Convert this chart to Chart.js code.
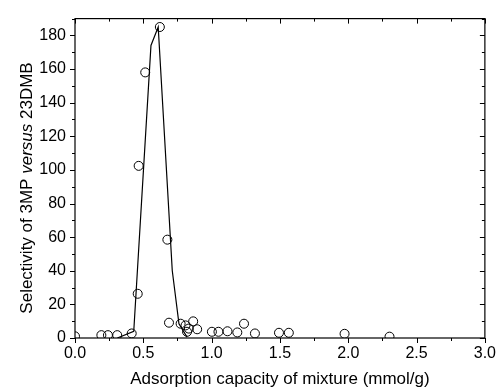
<!DOCTYPE html>
<html>
<head>
<meta charset="utf-8">
<script src="https://cdn.jsdelivr.net/npm/chart.js@4.4.0/dist/chart.umd.min.js"></script>
<style>
  html, body { margin: 0; padding: 0; background: #fff; }
  canvas { display: block; }
</style>
</head>
<body>
<canvas id="chart" width="502" height="389"></canvas>
<script>
// measured selectivity points
const capacity = [0, 0.193, 0.241, 0.309, 0.415, 0.459, 0.466, 0.514, 0.621, 0.676,
  0.688, 0.773, 0.809, 0.82, 0.833, 0.865, 0.894, 1.002, 1.05, 1.116,
  1.188, 1.237, 1.317, 1.493, 1.565, 1.973, 2.302];
const selectivity = [1, 1.7, 1.7, 1.7, 2.7, 26.3, 102.4, 158, 185, 58.5,
  9.1, 8.5, 7.5, 3.7, 5.6, 9.9, 5.2, 3.7, 3.7, 4,
  3.3, 8.5, 2.7, 3.1, 3.1, 2.5, 0.8];

// fitted curve through the peak
const fitCapacity = [0.31, 0.43, 0.556, 0.609, 0.712, 0.761, 0.82];
const fitSelectivity = [0, 4, 174, 185, 40, 8.5, 0.5];

const xTickValues = [0, 0.5, 1.0, 1.5, 2.0, 2.5, 3.0];
const yTickValues = [0, 20, 40, 60, 80, 100, 120, 140, 160, 180];

const FONT = 'Liberation Sans, Arial, Helvetica, sans-serif';

const points = capacity.map((x, i) => ({ x: x, y: selectivity[i] }));
const fit = fitCapacity.map((x, i) => ({ x: x, y: fitSelectivity[i] }));

// box, inward/outward tick marks and axis titles
const framePlugin = {
  id: 'frame',
  afterDraw(chart) {
    const ctx = chart.ctx;
    const a = chart.chartArea;
    const xs = chart.scales.x;
    const ys = chart.scales.y;
    ctx.save();
    ctx.strokeStyle = '#000';
    ctx.lineWidth = 1.2;
    ctx.strokeRect(a.left, a.top, a.right - a.left, a.bottom - a.top);

    ctx.lineWidth = 1;
    ctx.beginPath();
    for (let v = 0; v <= 3.0001; v += 0.25) {
      const px = Math.round(xs.getPixelForValue(v)) + 0.5;
      const major = Math.abs(v * 2 - Math.round(v * 2)) < 1e-6;
      const len = major ? 5 : 3;
      ctx.moveTo(px, a.bottom); ctx.lineTo(px, a.bottom + len);
      ctx.moveTo(px, a.top); ctx.lineTo(px, a.top + len);
    }
    for (let v = 0; v <= 190; v += 10) {
      const py = Math.round(ys.getPixelForValue(v)) + 0.5;
      const len = v % 20 === 0 ? 5 : 3;
      ctx.moveTo(a.left, py); ctx.lineTo(a.left - len, py);
      ctx.moveTo(a.right, py); ctx.lineTo(a.right - len, py);
    }
    ctx.stroke();

    ctx.fillStyle = '#000';
    ctx.textAlign = 'center';
    ctx.textBaseline = 'alphabetic';
    ctx.font = '17px ' + FONT;
    ctx.fillText('Adsorption capacity of mixture (mmol/g)', (a.left + a.right) / 2, 384);

    const parts = [
      ['Selectivity of 3MP ', '17px ' + FONT],
      ['versus', 'italic 17px ' + FONT],
      [' 23DMB', '17px ' + FONT]
    ];
    let total = 0;
    parts.forEach(p => { ctx.font = p[1]; total += ctx.measureText(p[0]).width; });
    ctx.translate(31.5, 188);
    ctx.rotate(-Math.PI / 2);
    ctx.textAlign = 'left';
    let x = -total / 2;
    parts.forEach(p => {
      ctx.font = p[1];
      ctx.fillText(p[0], x, 0);
      x += ctx.measureText(p[0]).width;
    });
    ctx.restore();
  }
};

const tickFont = { family: FONT, size: 16 };

new Chart(document.getElementById('chart').getContext('2d'), {
  type: 'scatter',
  data: {
    datasets: [
      {
        type: 'line',
        data: fit,
        borderColor: '#000',
        borderWidth: 1.2,
        pointRadius: 0,
        fill: false,
        tension: 0,
        clip: 0
      },
      {
        data: points,
        pointStyle: 'circle',
        pointRadius: 4.5,
        borderWidth: 1,
        borderColor: '#000',
        backgroundColor: 'rgba(0,0,0,0)',
        clip: 0
      }
    ]
  },
  options: {
    responsive: false,
    animation: false,
    layout: { padding: { top: 11, right: 13, left: 0, bottom: 0 } },
    plugins: { legend: { display: false }, tooltip: { enabled: false } },
    scales: {
      x: {
        type: 'linear',
        min: 0,
        max: 3,
        afterBuildTicks: s => { s.ticks = xTickValues.map(v => ({ value: v })); },
        ticks: { callback: v => v.toFixed(1), font: tickFont, color: '#000', padding: 6, maxRotation: 0 },
        grid: { display: false, drawTicks: false },
        border: { display: false },
        afterFit: s => { s.height = 51; }
      },
      y: {
        min: 0,
        max: 190,
        afterBuildTicks: s => { s.ticks = yTickValues.map(v => ({ value: v })); },
        ticks: { font: tickFont, color: '#000', padding: 9 },
        grid: { display: false, drawTicks: false },
        border: { display: false },
        afterFit: s => { s.width = 75; }
      }
    }
  },
  plugins: [framePlugin]
});
</script>
</body>
</html>
